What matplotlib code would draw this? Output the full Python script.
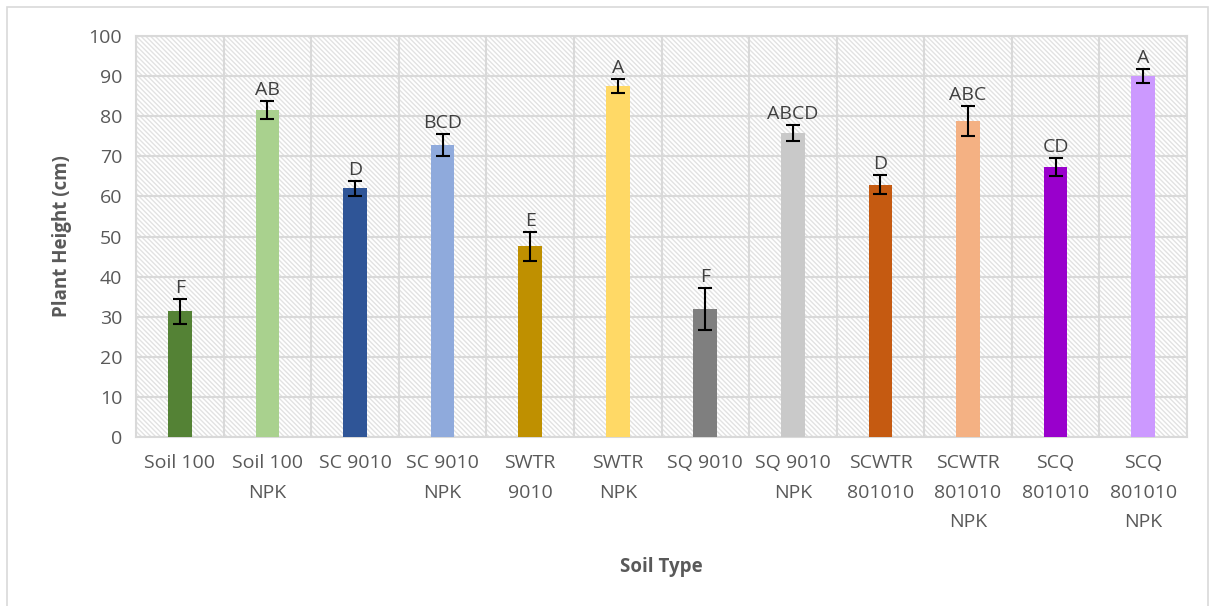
# plant height by soil type, bar chart with error bars and letter groups

import matplotlib
matplotlib.use("Agg")
import matplotlib.pyplot as plt
from matplotlib.patches import Rectangle
import numpy as np

# =============================================================================
# Data
# =============================================================================

soil_types = [
    "Soil 100", "Soil 100\nNPK", "SC 9010", "SC 9010\nNPK", "SWTR\n9010",
    "SWTR\nNPK", "SQ 9010", "SQ 9010\nNPK", "SCWTR\n801010",
    "SCWTR\n801010\nNPK", "SCQ\n801010", "SCQ\n801010\nNPK",
]
heights = [31.3, 81.6, 62.0, 72.8, 47.6, 87.6, 31.9, 75.8, 62.9, 78.8, 67.3, 90.1]
errors = [3.1, 2.3, 1.8, 2.8, 3.6, 1.7, 5.3, 2.0, 2.4, 3.7, 2.2, 1.7]
letters = ["F", "AB", "D", "BCD", "E", "A", "F", "ABCD", "D", "ABC", "CD", "A"]
colors = [
    "#548235", "#A9D18E", "#2F5597", "#8FAADC", "#BF9000", "#FFD966",
    "#7F7F7F", "#C9C9C9", "#C55A11", "#F4B183", "#9900CC", "#CC99FF",
]

TEXT = "#595959"
GRID = "#D9D9D9"
FONT = ["Open Sans", "DejaVu Sans"]

plt.rcParams["font.family"] = FONT
plt.rcParams["hatch.color"] = "#E2E2E2"
plt.rcParams["hatch.linewidth"] = 1.0

# =============================================================================
# Plot
# =============================================================================

fig = plt.figure(figsize=(12.1, 6.06), dpi=100)
ax = fig.add_axes([136 / 1210, 1 - 437 / 606, (1187 - 136) / 1210, (437 - 36) / 606])

ax.patch.set_facecolor("white")
ax.patch.set_hatch("\\" * 7)
ax.patch.set_edgecolor("#E2E2E2")

x = np.arange(len(soil_types))
ax.bar(x, heights, width=0.27, color=colors, zorder=3)
ax.errorbar(x, heights, yerr=errors, fmt="none", ecolor="black",
            elinewidth=1.5, capsize=5, capthick=1.5, zorder=4)

for xi, h, e, lab in zip(x, heights, errors, letters):
    ax.text(xi, h + e + 0.5, lab, ha="center", va="bottom",
            fontsize=14, color="#404040", zorder=5)

ax.set_xlim(-0.5, len(soil_types) - 0.5)
ax.set_ylim(0, 100)
ax.set_yticks(range(0, 101, 10))
ax.set_xticks(x)
ax.set_xticklabels(soil_types, linespacing=1.85)
ax.set_xticks(np.arange(-0.5, len(soil_types), 1.0), minor=True)

ax.grid(axis="y", which="major", color=GRID, linewidth=1.5, zorder=1)
ax.grid(axis="x", which="minor", color=GRID, linewidth=1.5, zorder=1)
ax.set_axisbelow(True)

ax.tick_params(axis="both", which="both", length=0, labelsize=14,
               labelcolor=TEXT)
ax.tick_params(axis="x", pad=12)
ax.tick_params(axis="y", pad=10)

for side in ["left", "right", "top", "bottom"]:
    ax.spines[side].set_color(GRID)
    ax.spines[side].set_linewidth(1.5)

ax.set_ylabel("Plant Height (cm)", fontsize=13.5, fontweight="bold",
              color=TEXT, labelpad=12)
ax.set_xlabel("Soil Type", fontsize=13.5, fontweight="bold", color=TEXT)
ax.xaxis.set_label_coords(0.5, -0.30)

# chart area border
fig.patches.append(Rectangle((7 / 1210, -0.05), 1201 / 1210, 1.05 - 7 / 606,
                             transform=fig.transFigure, fill=False,
                             edgecolor=GRID, linewidth=1.2))

fig.savefig("out.png", dpi=100)
